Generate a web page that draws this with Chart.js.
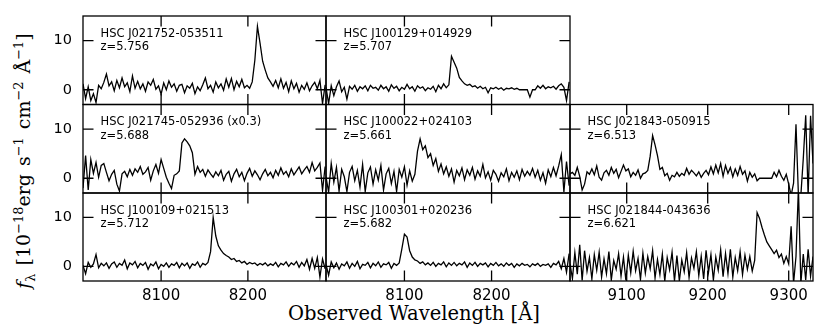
<!DOCTYPE html>
<html lang="en">
<head>
<meta charset="UTF-8">
<title>Ly-alpha spectra of HSC LAEs</title>
<script src="https://cdn.jsdelivr.net/npm/chart.js"></script>
<style>
  body { margin: 0; background: #fff; }
  #wrap { position: relative; width: 830px; height: 332px; overflow: hidden; }
  #wrap canvas { position: absolute; left: 0; top: 0; }
  .xlabel {
    position: absolute; left: 214px; width: 400px; top: 304px;
    text-align: center; white-space: nowrap; line-height: 20px;
    font-family: 'DejaVu Serif', serif; font-size: 19.5px; color: #000;
  }
  .ylabel {
    position: absolute; left: 23px; top: 161px; white-space: nowrap;
    transform: translate(-50%, -50%) rotate(-90deg);
    font-family: 'DejaVu Serif', serif; font-size: 19px; word-spacing: 2px; color: #000;
  }
  .ylabel sup, .ylabel sub { font-size: 68%; line-height: 0; }
</style>
</head>
<body>
<div id="wrap">
  <div class="ylabel"><i>f</i><sub>λ</sub> [10<sup>−18</sup>erg s<sup>−1</sup> cm<sup>−2</sup> Å<sup>−1</sup>]</div>
  <div class="xlabel">Observed Wavelength [Å]</div>
</div>
<script>
// wavelength sampling of the two spectral windows (Å)
const waveBlue = Array.from({length: 94}, (_, i) => 8010 + 3 * i);
const waveRed = Array.from({length: 101}, (_, i) => 9030 + 3 * i);

// flux, 1e-18 erg/s/cm2/Å
const fluxJ021752 = [1.2,-1.8,0.6,-2.2,-0.8,-2.6,0.9,0.2,1.5,3.2,
  0.8,1.6,-0.2,1.9,0.4,2.4,0.6,1.4,-0.4,2.8,
  0.3,1.7,0.2,1.2,-0.3,1.6,0.9,2.1,0.1,0.8,
  -0.9,1.4,0.0,1.8,0.5,1.2,-0.3,0.9,1.1,-0.6,
  0.8,0.3,1.3,-0.8,0.6,-0.2,1.0,2.4,0.2,0.9,
  -0.5,1.6,0.4,1.2,-0.1,2.2,0.5,2.3,0.0,1.7,
  0.6,2.1,0.4,0.9,0.3,1.6,6.0,12.9,9.5,5.8,
  4.0,2.4,1.6,0.7,1.9,0.4,2.2,0.3,1.5,-0.4,
  1.8,0.2,1.3,-0.5,0.9,0.1,1.4,-0.2,0.8,1.5,
  0.2,1.9,-2.8,1.0];
const fluxJ100129 = [0.5,-2.8,0.8,-1.2,0.6,1.8,-0.4,0.5,-1.9,0.7,
  0.1,0.9,-0.3,0.6,0.2,0.8,-0.2,0.9,0.3,0.5,
  -0.1,0.9,0.2,0.6,-0.3,1.0,0.3,0.7,-0.2,0.5,
  0.1,1.1,0.2,0.6,-0.3,0.8,0.3,0.6,-0.2,0.4,
  0.1,0.7,-0.4,0.9,0.2,1.2,0.4,1.0,6.8,5.6,
  4.4,2.5,1.8,1.2,0.9,1.1,0.6,0.8,0.3,0.7,
  0.2,0.5,-0.6,0.4,0.2,0.5,0.1,0.4,-0.1,0.3,
  0.2,0.4,0.1,0.3,0.0,0.0,0.0,0.0,-1.5,0.0,
  0.0,0.8,0.3,0.9,0.2,0.6,0.4,0.7,0.1,0.8,
  1.2,0.5,-2.2,1.6];
const fluxJ021745 = [-2.0,4.6,-2.4,3.8,1.0,3.2,0.2,2.6,3.0,1.2,
  -0.5,0.8,1.6,-1.2,-2.6,0.9,1.4,0.3,1.8,0.6,
  1.9,1.2,2.4,0.8,1.3,2.2,-0.4,1.5,2.8,1.0,
  3.8,2.0,0.2,-1.0,-2.1,0.6,0.9,1.5,7.2,8.0,
  7.4,6.6,5.2,0.8,2.4,1.2,1.8,0.4,1.7,0.9,
  0.2,1.3,0.5,1.6,-0.4,0.8,1.4,-0.6,0.9,1.8,
  0.3,1.2,-0.5,1.0,2.0,0.4,1.5,0.7,-0.3,0.9,
  1.8,0.5,1.2,0.1,1.6,0.6,2.1,0.8,1.4,0.3,
  1.9,0.7,1.5,2.3,0.9,1.7,2.4,1.2,3.2,1.5,
  2.2,3.1,-2.5,2.4];
const fluxJ100022 = [0.3,-2.8,3.0,-0.8,2.2,-2.6,1.8,0.3,-2.7,1.2,
  2.4,-0.5,1.6,-1.8,2.8,-2.7,1.1,2.3,-1.2,1.7,
  -0.4,2.6,-2.4,0.9,2.0,-1.1,1.4,-2.7,1.8,0.2,
  2.3,-1.4,1.5,-0.6,0.8,5.5,8.0,5.8,6.6,4.2,
  5.0,2.6,4.0,1.4,2.9,0.9,2.3,0.4,1.9,-0.8,
  1.6,0.5,2.1,-0.3,1.7,0.6,2.2,-0.2,1.5,0.4,
  2.8,0.1,1.3,-0.4,1.6,0.8,-0.6,1.1,0.3,1.9,
  -0.5,1.2,0.2,1.5,-0.3,1.8,0.4,1.4,0.6,2.0,
  0.2,1.6,-0.4,1.1,-1.0,1.7,0.3,2.2,0.5,2.5,
  4.8,-2.8,3.4,-1.5];
const fluxJ021843 = [0.9,1.2,0.6,2.2,0.4,-2.4,-1.2,1.3,0.8,1.9,
  0.7,2.5,0.2,-0.4,1.1,1.6,0.6,2.2,1.0,1.8,
  0.1,1.4,2.7,1.5,1.9,0.3,1.2,0.6,1.7,0.0,
  0.9,1.1,1.6,4.5,8.7,6.8,4.6,1.8,2.2,0.5,
  1.0,-0.4,0.6,0.3,1.2,0.4,1.0,0.6,2.0,0.8,
  1.6,1.1,0.5,1.3,0.2,1.0,1.6,0.7,2.3,0.9,
  2.7,1.1,3.0,0.4,2.6,1.0,2.2,0.3,1.9,0.6,
  2.4,0.8,1.5,-0.6,1.2,0.2,0.9,-0.5,0.0,0.0,
  0.0,0.0,0.0,0.0,1.2,0.3,1.6,0.4,-0.4,0.8,
  -1.2,-3.5,-1.0,11.0,-3.5,-3.5,4.0,12.8,-3.5,12.7,
  3.0];
const fluxJ100109 = [0.2,-1.5,0.8,-0.2,0.5,2.4,-0.3,0.6,0.1,0.7,
  -0.4,0.5,0.9,-0.2,0.6,0.2,1.3,-0.5,0.7,0.3,
  1.0,-0.3,0.6,0.2,0.8,-0.6,0.5,0.1,0.9,-0.5,
  0.4,0.0,0.7,-0.2,0.5,0.2,0.8,-0.3,0.6,0.1,
  0.7,-0.4,0.5,0.2,0.9,-0.2,0.6,0.3,0.8,3.0,
  10.0,6.2,4.2,3.3,2.6,2.2,1.9,1.4,1.6,1.0,
  1.2,0.7,1.0,0.4,0.8,0.5,0.7,0.2,0.6,0.3,
  0.7,0.1,0.5,0.2,0.8,-0.1,0.6,0.3,0.9,0.0,
  0.7,0.3,1.0,-0.2,0.8,0.1,1.4,-0.6,1.6,-0.4,
  1.8,-2.2,1.5,-0.5];
const fluxJ100301 = [0.4,-1.8,0.9,-0.3,0.7,-0.6,0.5,0.1,0.9,-0.4,
  0.6,0.0,1.0,-0.5,0.4,0.2,0.8,-0.3,0.6,0.1,
  0.9,-0.2,0.5,0.3,0.8,-0.4,0.6,0.2,0.7,3.5,
  6.6,6.0,3.2,1.9,1.3,1.1,0.6,0.9,0.3,0.7,
  0.2,0.8,0.0,0.6,0.3,0.9,-0.1,0.7,0.2,0.8,
  0.1,0.6,0.3,0.9,-0.2,0.7,0.2,0.8,0.0,0.6,
  0.3,0.7,-0.1,0.6,0.2,0.8,0.1,0.5,0.0,0.7,
  0.2,0.6,-0.2,0.5,0.1,0.6,0.2,0.4,-0.1,0.5,
  0.2,0.6,0.0,0.4,0.2,0.5,-0.2,0.6,0.3,1.0,
  -0.5,1.6,-1.2,2.6];
const fluxJ021844 = [0.5,-2.5,2.8,-1.6,4.4,-2.9,3.2,-1.0,1.8,-2.6,
  2.4,-0.8,2.9,-2.2,1.5,-1.5,3.0,-2.8,1.2,-0.6,
  2.6,-2.0,1.9,-2.9,2.3,-1.3,3.1,-0.9,1.6,-2.7,
  2.7,-1.4,2.0,-0.5,3.2,-2.4,1.4,-1.7,2.5,-3.0,
  1.8,-0.7,2.9,-3.0,2.2,-3.0,1.3,-1.1,2.8,-2.3,
  1.7,-0.4,3.0,-1.9,2.1,-2.6,3.3,-1.2,2.4,-2.8,
  1.9,-0.8,3.4,-2.1,2.6,-1.5,3.5,-2.2,1.8,-0.9,
  3.0,-1.7,2.3,-0.6,2.0,-1.0,1.2,11.0,9.8,8.0,
  6.4,5.0,4.2,3.4,2.6,3.3,1.8,2.5,0.6,2.0,
  0.5,8.2,-3.5,2.0,16.0,-3.5,2.5,-2.8,3.5,-2.0,
  2.0];

const xRanges = [[8010, 8290], [8010, 8290], [9030, 9330]];
const xTickValues = [[8100, 8200], [8100, 8200], [9100, 9200, 9300]];
const yRange = [-3, 15];
const yTickValues = [0, 10];

const panels = [
  { name: 'HSC J021752-053511', z: 'z=5.756', row: 0, col: 0, flux: fluxJ021752 },
  { name: 'HSC J100129+014929', z: 'z=5.707', row: 0, col: 1, flux: fluxJ100129 },
  { name: 'HSC J021745-052936 (x0.3)', z: 'z=5.688', row: 1, col: 0, flux: fluxJ021745 },
  { name: 'HSC J100022+024103', z: 'z=5.661', row: 1, col: 1, flux: fluxJ100022 },
  { name: 'HSC J021843-050915', z: 'z=6.513', row: 1, col: 2, flux: fluxJ021843 },
  { name: 'HSC J100109+021513', z: 'z=5.712', row: 2, col: 0, flux: fluxJ100109 },
  { name: 'HSC J100301+020236', z: 'z=5.682', row: 2, col: 1, flux: fluxJ100301 },
  { name: 'HSC J021844-043636', z: 'z=6.621', row: 2, col: 2, flux: fluxJ021844 },
];

// page geometry of the panel grid
const W = 830, H = 332;
const colLeft = [83, 326, 570], colRight = [326, 570, 813];
const rowTop = [16, 104.5, 193], rowBottom = [104.5, 193, 281];
const Y_AXIS_W = 40, X_AXIS_H = 30, TICK = 10.5;

// frame, inward ticks on all four sides, object label
const panelFrame = {
  id: 'panelFrame',
  afterDatasetsDraw(chart, args, opts) {
    const { ctx, chartArea: a } = chart;
    const x = chart.scales.x, y = chart.scales.y;
    ctx.save();
    ctx.strokeStyle = '#000';
    ctx.lineWidth = 1.3;
    ctx.beginPath();
    x.ticks.forEach(t => {
      const px = x.getPixelForValue(t.value);
      ctx.moveTo(px, a.top); ctx.lineTo(px, a.top + TICK);
      ctx.moveTo(px, a.bottom); ctx.lineTo(px, a.bottom - TICK);
    });
    y.ticks.forEach(t => {
      const py = y.getPixelForValue(t.value);
      ctx.moveTo(a.left, py); ctx.lineTo(a.left + TICK, py);
      ctx.moveTo(a.right, py); ctx.lineTo(a.right - TICK, py);
    });
    ctx.stroke();
    ctx.strokeRect(a.left, a.top, a.right - a.left, a.bottom - a.top);
    ctx.fillStyle = '#000';
    ctx.font = '11.5px "DejaVu Sans"';
    ctx.fillText(opts.name, a.left + 17.5, a.top + 20.7);
    ctx.fillText(opts.z, a.left + 17.5, a.top + 34);
    ctx.restore();
  }
};

const wrap = document.getElementById('wrap');
panels.forEach(p => {
  const showY = p.col === 0;
  const showX = p.row === 2;
  const wave = p.col === 2 ? waveRed : waveBlue;
  const canvas = document.createElement('canvas');
  canvas.width = W; canvas.height = H;
  wrap.appendChild(canvas);

  new Chart(canvas, {
    type: 'line',
    data: {
      datasets: [{
        data: wave.map((w, i) => ({ x: w, y: p.flux[i] })),
        borderColor: '#000',
        borderWidth: 1.3,
        pointRadius: 0,
        tension: 0,
        fill: false,
        clip: 0
      }]
    },
    options: {
      responsive: false,
      animation: false,
      events: [],
      layout: {
        padding: {
          left: colLeft[p.col] - (showY ? Y_AXIS_W : 0),
          right: W - colRight[p.col],
          top: rowTop[p.row],
          bottom: H - rowBottom[p.row] - (showX ? X_AXIS_H : 0)
        }
      },
      plugins: {
        legend: { display: false },
        tooltip: { enabled: false },
        panelFrame: { name: p.name, z: p.z }
      },
      scales: {
        x: {
          type: 'linear',
          min: xRanges[p.col][0],
          max: xRanges[p.col][1],
          grid: { display: false },
          border: { display: false },
          afterBuildTicks: s => { s.ticks = xTickValues[p.col].map(v => ({ value: v })); },
          afterFit: s => { s.height = showX ? X_AXIS_H : 0; },
          ticks: {
            display: showX,
            color: '#000',
            padding: -2,
            maxRotation: 0,
            autoSkip: false,
            font: { family: 'DejaVu Sans', size: 15 },
            callback: v => String(v)
          }
        },
        y: {
          min: yRange[0],
          max: yRange[1],
          grid: { display: false },
          border: { display: false },
          afterBuildTicks: s => { s.ticks = yTickValues.map(v => ({ value: v })); },
          afterFit: s => { s.width = showY ? Y_AXIS_W : 0; },
          ticks: {
            display: showY,
            color: '#000',
            padding: 3,
            font: { family: 'DejaVu Sans', size: 14.5 },
            callback: v => String(v)
          }
        }
      }
    },
    plugins: [panelFrame]
  });
});
</script>
</body>
</html>
